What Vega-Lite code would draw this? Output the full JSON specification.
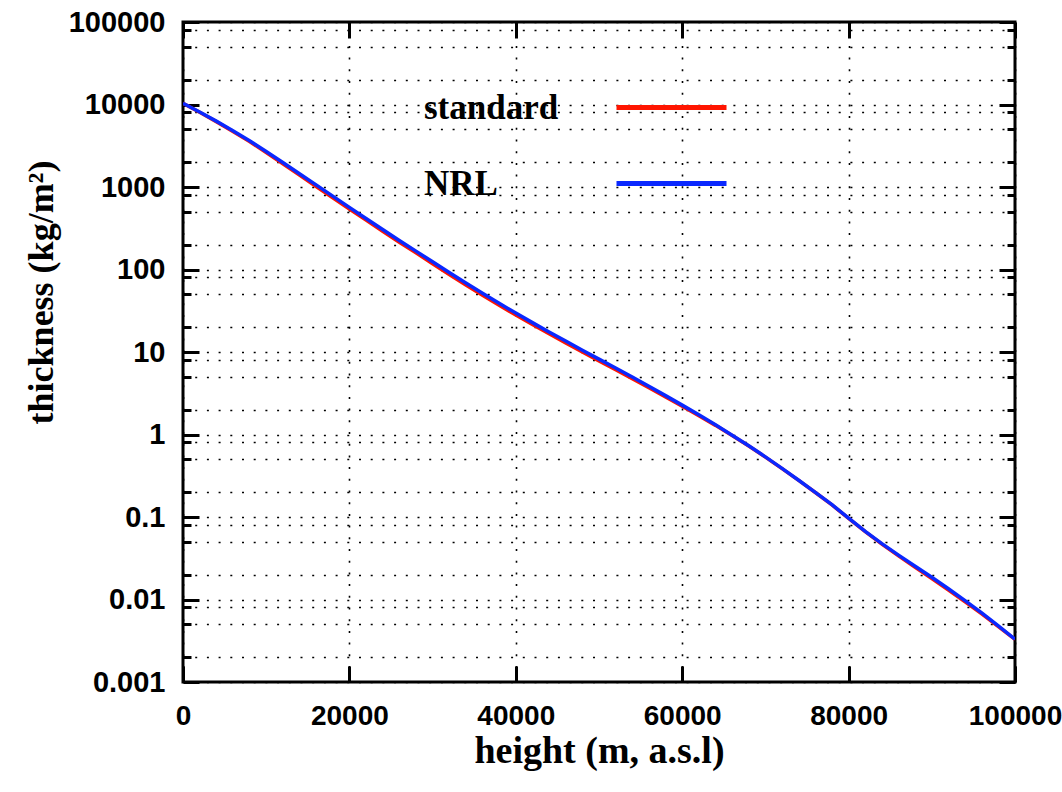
{
  "$schema": "https://vega.github.io/schema/vega-lite/v6.json",
  "width": 832,
  "height": 660,
  "autosize": {"type": "none"},
  "padding": {"left": 183, "top": 22, "right": 47, "bottom": 110},
  "background": "white",
  "config": {
    "view": {"stroke": "#000", "strokeWidth": 3},
    "axis": {
      "domain": false,
      "labelFont": "Liberation Sans",
      "labelFontWeight": "bold",
      "labelFontSize": 29,
      "labelColor": "#000",
      "tickColor": "#000",
      "tickWidth": 3,
      "titleFont": "Liberation Serif",
      "titleFontWeight": "bold",
      "titleColor": "#000",
      "gridColor": "#000",
      "gridDash": [2, 9.7],
      "gridWidth": 1.6,
      "gridOpacity": 1,
      "labelOverlap": false,
      "labelFlush": false,
      "labelBound": false
    }
  },
  "datasets": {
    "curves": [
      {"series": "standard", "h": 0, "t": 10330},
      {"series": "standard", "h": 2000, "t": 8050},
      {"series": "standard", "h": 4000, "t": 6200},
      {"series": "standard", "h": 6000, "t": 4720},
      {"series": "standard", "h": 8000, "t": 3550},
      {"series": "standard", "h": 10000, "t": 2620},
      {"series": "standard", "h": 12000, "t": 1910},
      {"series": "standard", "h": 14000, "t": 1395},
      {"series": "standard", "h": 16000, "t": 1015},
      {"series": "standard", "h": 18000, "t": 742},
      {"series": "standard", "h": 20000, "t": 542},
      {"series": "standard", "h": 22000, "t": 397},
      {"series": "standard", "h": 24000, "t": 291},
      {"series": "standard", "h": 26000, "t": 214},
      {"series": "standard", "h": 28000, "t": 159},
      {"series": "standard", "h": 30000, "t": 117.5},
      {"series": "standard", "h": 32000, "t": 87},
      {"series": "standard", "h": 34000, "t": 64.8},
      {"series": "standard", "h": 36000, "t": 48.6},
      {"series": "standard", "h": 38000, "t": 36.8},
      {"series": "standard", "h": 40000, "t": 28.0},
      {"series": "standard", "h": 42000, "t": 21.5},
      {"series": "standard", "h": 44000, "t": 16.6},
      {"series": "standard", "h": 46000, "t": 12.9},
      {"series": "standard", "h": 48000, "t": 10.0},
      {"series": "standard", "h": 50000, "t": 7.8},
      {"series": "standard", "h": 52000, "t": 6.1},
      {"series": "standard", "h": 54000, "t": 4.75},
      {"series": "standard", "h": 56000, "t": 3.68},
      {"series": "standard", "h": 58000, "t": 2.85},
      {"series": "standard", "h": 60000, "t": 2.2},
      {"series": "standard", "h": 62000, "t": 1.69},
      {"series": "standard", "h": 64000, "t": 1.29},
      {"series": "standard", "h": 66000, "t": 0.97},
      {"series": "standard", "h": 68000, "t": 0.725},
      {"series": "standard", "h": 70000, "t": 0.532},
      {"series": "standard", "h": 72000, "t": 0.386},
      {"series": "standard", "h": 74000, "t": 0.278},
      {"series": "standard", "h": 76000, "t": 0.198},
      {"series": "standard", "h": 78000, "t": 0.14},
      {"series": "standard", "h": 80000, "t": 0.0965},
      {"series": "standard", "h": 82000, "t": 0.0665},
      {"series": "standard", "h": 84000, "t": 0.047},
      {"series": "standard", "h": 86000, "t": 0.0338},
      {"series": "standard", "h": 88000, "t": 0.0245},
      {"series": "standard", "h": 90000, "t": 0.0179},
      {"series": "standard", "h": 92000, "t": 0.013},
      {"series": "standard", "h": 94000, "t": 0.0094},
      {"series": "standard", "h": 96000, "t": 0.0067},
      {"series": "standard", "h": 98000, "t": 0.0047},
      {"series": "standard", "h": 100000, "t": 0.00328},
      {"series": "NRL", "h": 0, "t": 10330},
      {"series": "NRL", "h": 2000, "t": 8100},
      {"series": "NRL", "h": 4000, "t": 6290},
      {"series": "NRL", "h": 6000, "t": 4820},
      {"series": "NRL", "h": 8000, "t": 3640},
      {"series": "NRL", "h": 10000, "t": 2700},
      {"series": "NRL", "h": 12000, "t": 1980},
      {"series": "NRL", "h": 14000, "t": 1450},
      {"series": "NRL", "h": 16000, "t": 1060},
      {"series": "NRL", "h": 18000, "t": 775},
      {"series": "NRL", "h": 20000, "t": 566},
      {"series": "NRL", "h": 22000, "t": 415},
      {"series": "NRL", "h": 24000, "t": 305},
      {"series": "NRL", "h": 26000, "t": 225},
      {"series": "NRL", "h": 28000, "t": 167},
      {"series": "NRL", "h": 30000, "t": 124},
      {"series": "NRL", "h": 32000, "t": 92},
      {"series": "NRL", "h": 34000, "t": 68.5},
      {"series": "NRL", "h": 36000, "t": 51.5},
      {"series": "NRL", "h": 38000, "t": 39},
      {"series": "NRL", "h": 40000, "t": 29.6},
      {"series": "NRL", "h": 42000, "t": 22.7},
      {"series": "NRL", "h": 44000, "t": 17.5},
      {"series": "NRL", "h": 46000, "t": 13.6},
      {"series": "NRL", "h": 48000, "t": 10.5},
      {"series": "NRL", "h": 50000, "t": 8.2},
      {"series": "NRL", "h": 52000, "t": 6.4},
      {"series": "NRL", "h": 54000, "t": 4.98},
      {"series": "NRL", "h": 56000, "t": 3.85},
      {"series": "NRL", "h": 58000, "t": 2.96},
      {"series": "NRL", "h": 60000, "t": 2.27},
      {"series": "NRL", "h": 62000, "t": 1.73},
      {"series": "NRL", "h": 64000, "t": 1.31},
      {"series": "NRL", "h": 66000, "t": 0.98},
      {"series": "NRL", "h": 68000, "t": 0.73},
      {"series": "NRL", "h": 70000, "t": 0.535},
      {"series": "NRL", "h": 72000, "t": 0.388},
      {"series": "NRL", "h": 74000, "t": 0.279},
      {"series": "NRL", "h": 76000, "t": 0.199},
      {"series": "NRL", "h": 78000, "t": 0.141},
      {"series": "NRL", "h": 80000, "t": 0.097},
      {"series": "NRL", "h": 82000, "t": 0.0668},
      {"series": "NRL", "h": 84000, "t": 0.0475},
      {"series": "NRL", "h": 86000, "t": 0.0345},
      {"series": "NRL", "h": 88000, "t": 0.0253},
      {"series": "NRL", "h": 90000, "t": 0.0186},
      {"series": "NRL", "h": 92000, "t": 0.0135},
      {"series": "NRL", "h": 94000, "t": 0.0097},
      {"series": "NRL", "h": 96000, "t": 0.0069},
      {"series": "NRL", "h": 98000, "t": 0.0048},
      {"series": "NRL", "h": 100000, "t": 0.0033}
    ]
  },
  "data": {"name": "curves"},
  "layer": [
    {
      "transform": [{"filter": "datum.series === 'standard'"}],
      "mark": {"type": "line", "strokeWidth": 3.5, "clip": true},
      "encoding": {
        "x": {
          "field": "h", "type": "quantitative",
          "scale": {"domain": [0, 100000], "nice": false, "zero": false},
          "axis": {
            "orient": "bottom",
            "values": [0, 20000, 40000, 60000, 80000, 100000],
            "format": "d",
            "grid": true,
            "tickSize": -16,
            "labelFontSize": 28,
            "labelPadding": 36,
            "labelBaseline": "top",
            "title": "height (m, a.s.l)",
            "titleFontSize": 38,
            "titleBaseline": "alphabetic",
            "titleY": 80
          }
        },
        "y": {
          "field": "t", "type": "quantitative",
          "scale": {"type": "log", "domain": [0.001, 100000], "nice": false},
          "axis": {
            "orient": "left",
            "values": [0.001, 0.002, 0.005, 0.008, 0.01, 0.02, 0.05, 0.08, 0.1, 0.2, 0.5, 0.8, 1, 2, 5, 8, 10, 20, 50, 80, 100, 200, 500, 800, 1000, 2000, 5000, 8000, 10000, 20000, 50000, 80000, 100000],
            "format": "~r",
            "labelExpr": "abs(log(datum.value)/LN10 - round(log(datum.value)/LN10)) < 0.001 ? datum.label : ''",
            "grid": true,
            "tickSize": {"condition": {"test": "abs(log(datum.value)/LN10 - round(log(datum.value)/LN10)) < 0.001", "value": -16}, "value": -8},
            "labelPadding": 34,
            "labelBaseline": "middle",
            "title": "thickness (kg/m²)",
            "titleFontSize": 36,
            "titleAngle": -90,
            "titleAlign": "center",
            "titleBaseline": "alphabetic",
            "titleX": -131,
            "titleY": 270
          }
        },
        "color": {
          "field": "series", "type": "nominal",
          "scale": {"domain": ["standard", "NRL"], "range": ["#ff1500", "#0a28ff"]},
          "legend": {
            "title": null,
            "orient": "none",
            "legendX": 431,
            "legendY": 28,
            "symbolType": "stroke",
            "symbolSize": 12100,
            "symbolStrokeWidth": 5,
            "labelFont": "Liberation Serif",
            "labelFontSize": 35,
            "labelFontWeight": "bold",
            "labelColor": "#000",
            "labelOffset": -305,
            "labelLimit": 0,
            "rowPadding": -34
          }
        }
      }
    },
    {
      "transform": [{"filter": "datum.series === 'NRL'"}],
      "mark": {"type": "line", "strokeWidth": 3.5, "clip": true},
      "encoding": {
        "x": {
          "field": "h", "type": "quantitative",
          "scale": {"domain": [0, 100000], "nice": false, "zero": false},
          "axis": {
            "orient": "top",
            "values": [0, 20000, 40000, 60000, 80000, 100000],
            "labels": false,
            "grid": false,
            "tickSize": -16,
            "title": null
          }
        },
        "y": {
          "field": "t", "type": "quantitative",
          "scale": {"type": "log", "domain": [0.001, 100000], "nice": false},
          "axis": {
            "orient": "right",
            "values": [0.001, 0.002, 0.005, 0.008, 0.01, 0.02, 0.05, 0.08, 0.1, 0.2, 0.5, 0.8, 1, 2, 5, 8, 10, 20, 50, 80, 100, 200, 500, 800, 1000, 2000, 5000, 8000, 10000, 20000, 50000, 80000, 100000],
            "labels": false,
            "grid": false,
            "tickSize": {"condition": {"test": "abs(log(datum.value)/LN10 - round(log(datum.value)/LN10)) < 0.001", "value": -16}, "value": -8},
            "title": null
          }
        },
        "color": {"field": "series", "type": "nominal"}
      }
    }
  ],
  "resolve": {"axis": {"x": "independent", "y": "independent"}}
}
